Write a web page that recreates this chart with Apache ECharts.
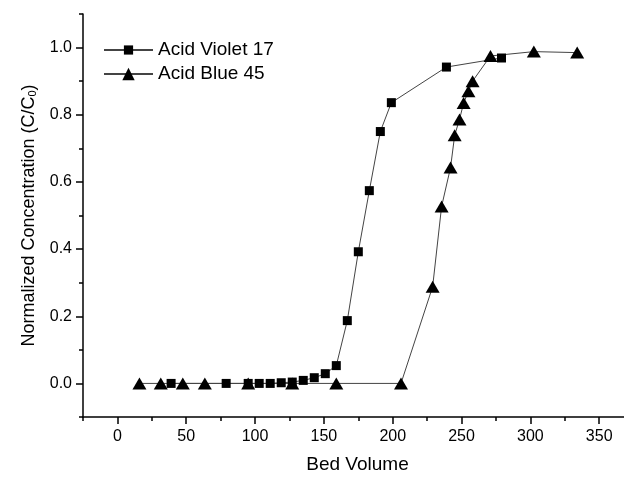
<!DOCTYPE html>
<html>
<head>
<meta charset="utf-8">
<script src="https://cdn.jsdelivr.net/npm/echarts@6/dist/echarts.min.js"></script>
<style>
html,body{margin:0;padding:0;background:#fff;}
#chart{width:624px;height:479px;}
</style>
</head>
<body>
<div id="chart"></div>
<script>
// Acid Violet 17 (squares)
const avBV = [39, 79, 95, 103, 111, 119, 127, 135, 143, 151, 159, 167, 175, 183, 191, 199, 239, 279];
const avC  = [0, 0, 0, 0, 0, 0.002, 0.004, 0.009, 0.017, 0.029, 0.053, 0.187, 0.392, 0.574, 0.75, 0.836, 0.942, 0.969];
// Acid Blue 45 (triangles)
const abBV = [16, 31.5, 47.5, 63.5, 95, 127, 159, 206, 229, 235.5, 242, 245, 248.5, 251.5, 255, 258, 271, 302.5, 334];
const abC  = [0, 0, 0, 0, 0, 0, 0, 0, 0.288, 0.527, 0.643, 0.739, 0.786, 0.835, 0.87, 0.9, 0.975, 0.988, 0.985];

const xMajorTicks = [0, 50, 100, 150, 200, 250, 300, 350];
const xMinorTicks = [-25, 25, 75, 125, 175, 225, 275, 325];
const yMajorTicks = [0, 0.2, 0.4, 0.6, 0.8, 1.0];
const yMinorTicks = [-0.1, 0.1, 0.3, 0.5, 0.7, 0.9, 1.1];

const seriesNames = ['Acid Violet 17', 'Acid Blue 45'];

const FONT = '"Liberation Sans", Arial, sans-serif';
const chart = echarts.init(document.getElementById('chart'), null, {renderer: 'canvas'});

const axisLineStyle = {color: '#000', width: 1.5};

chart.setOption({
  animation: false,
  backgroundColor: '#fff',
  textStyle: {fontFamily: FONT, color: '#000'},
  grid: {left: 83, right: 0, top: 14, bottom: 59, containLabel: false},
  legend: [
    {
      data: [seriesNames[0]], left: 103, top: 39, padding: 0,
      itemWidth: 49, itemHeight: 11.5, itemGap: 0,
      textStyle: {fontSize: 19, fontFamily: FONT, color: '#000', lineHeight: 22}
    },
    {
      data: [seriesNames[1]], left: 103, top: 63, padding: 0,
      itemWidth: 49, itemHeight: 15.5, itemGap: 0,
      textStyle: {fontSize: 19, fontFamily: FONT, color: '#000', lineHeight: 22}
    }
  ],
  xAxis: [
    {
      type: 'value', min: -25, max: 368, position: 'bottom',
      name: 'Bed Volume', nameLocation: 'middle', nameGap: 38,
      nameTextStyle: {fontSize: 19, fontFamily: FONT, color: '#000', padding: [0, 0, 0, 8]},
      axisLine: {show: true, onZero: false, lineStyle: axisLineStyle},
      axisTick: {show: true, length: 7, customValues: xMajorTicks, lineStyle: {color: '#000', width: 1.5}},
      axisLabel: {show: true, customValues: xMajorTicks, margin: 12, fontSize: 16, fontFamily: FONT, color: '#000'},
      splitLine: {show: false}
    },
    {
      type: 'value', min: -25, max: 368, position: 'bottom',
      axisLine: {show: false, onZero: false},
      axisTick: {show: true, length: 4, customValues: xMinorTicks, lineStyle: {color: '#000', width: 1.5}},
      axisLabel: {show: false},
      splitLine: {show: false}
    }
  ],
  yAxis: [
    {
      type: 'value', min: -0.1, max: 1.1, position: 'left',
      name: 'Normalized Concentration (C/C{sub|0})', nameLocation: 'middle', nameGap: 44, nameRotate: 90,
      nameTextStyle: {fontSize: 18, fontFamily: FONT, color: '#000',
        rich: {sub: {fontSize: 11, fontFamily: FONT, color: '#000', verticalAlign: 'bottom', padding: [8, 0, 0, 0]}}},
      axisLine: {show: true, onZero: false, lineStyle: axisLineStyle},
      axisTick: {show: true, length: 7, customValues: yMajorTicks, lineStyle: {color: '#000', width: 1.5}},
      axisLabel: {show: true, customValues: yMajorTicks, margin: 11, fontSize: 16, fontFamily: FONT, color: '#000',
        formatter: v => v.toFixed(1)},
      splitLine: {show: false}
    },
    {
      type: 'value', min: -0.1, max: 1.1, position: 'left',
      axisLine: {show: false, onZero: false},
      axisTick: {show: true, length: 4, customValues: yMinorTicks, lineStyle: {color: '#000', width: 1.5}},
      axisLabel: {show: false},
      splitLine: {show: false}
    }
  ],
  series: [
    {
      name: seriesNames[0], type: 'line', xAxisIndex: 0, yAxisIndex: 0,
      symbol: 'rect', symbolSize: 9,
      itemStyle: {color: '#000'},
      lineStyle: {color: '#444', width: 1},
      data: avBV.map((x, i) => [x, avC[i]])
    },
    {
      name: seriesNames[1], type: 'line', xAxisIndex: 0, yAxisIndex: 0,
      symbol: 'triangle', symbolSize: [14, 12],
      itemStyle: {color: '#000'},
      lineStyle: {color: '#444', width: 1},
      data: abBV.map((x, i) => [x, abC[i]])
    }
  ]
});
</script>
</body>
</html>
